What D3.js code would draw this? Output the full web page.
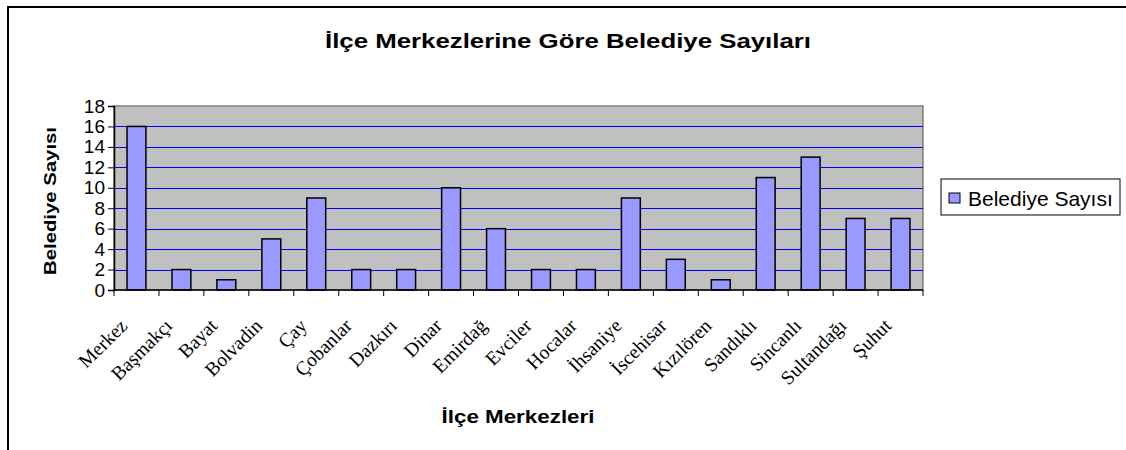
<!DOCTYPE html>
<html>
<head>
<meta charset="utf-8">
<script src="https://cdn.jsdelivr.net/npm/d3@7"></script>
<style>
  body { margin: 0; background: #fff; }
  svg { display: block; }
</style>
</head>
<body>
<svg id="chart" width="1126" height="450"></svg>
<script>
// data
const districts = ["Merkez", "Başmakçı", "Bayat", "Bolvadin", "Çay", "Çobanlar", "Dazkırı", "Dinar",
  "Emirdağ", "Evciler", "Hocalar", "İhsaniye", "İscehisar", "Kızılören", "Sandıklı", "Sincanlı",
  "Sultandağı", "Şuhut"];
const counts = [16, 2, 1, 5, 9, 2, 2, 10, 6, 2, 2, 9, 3, 1, 11, 13, 7, 7];
const yTicks = [0, 2, 4, 6, 8, 10, 12, 14, 16, 18];
const seriesName = "Belediye Sayısı";

const svg = d3.select("#chart");
const plot = {left: 114, right: 923, top: 106, bottom: 290};
const sans = "Liberation Sans, Arial, sans-serif";

// outer frame (right and bottom edges are cropped off in the original)
svg.append("path")
  .attr("d", "M8,450 V7 H1126")
  .attr("fill", "none").attr("stroke", "#000").attr("stroke-width", 2);

const x = d3.scaleBand().domain(districts).range([plot.left, plot.right]).paddingInner(0.58).paddingOuter(0.29);
const band = d3.scaleBand().domain(districts).range([plot.left, plot.right]);
const y = d3.scaleLinear().domain([0, 18]).range([plot.bottom, plot.top]);

// plot background
svg.append("rect")
  .attr("x", plot.left).attr("y", plot.top)
  .attr("width", plot.right - plot.left).attr("height", plot.bottom - plot.top)
  .attr("fill", "#c0c0c0").attr("stroke", "#808080").attr("stroke-width", 1.5);

// gridlines
svg.append("g").selectAll("line")
  .data(yTicks.filter(d => d > 0 && d < 18))
  .join("line")
    .attr("x1", plot.left).attr("x2", plot.right)
    .attr("y1", d => Math.round(y(d)) + 0.5).attr("y2", d => Math.round(y(d)) + 0.5)
    .attr("stroke", "#0000ff").attr("stroke-width", 1);

// bars
svg.append("g").selectAll("rect")
  .data(counts)
  .join("rect")
    .attr("x", (d, i) => x(districts[i]))
    .attr("y", d => y(d))
    .attr("width", x.bandwidth())
    .attr("height", d => y(0) - y(d))
    .attr("fill", "#9999ff").attr("stroke", "#000").attr("stroke-width", 1.5);

// y axis
const yAxis = svg.append("g")
  .attr("transform", `translate(${plot.left},0)`)
  .call(d3.axisLeft(y).tickValues(yTicks).tickSize(6).tickPadding(3));
yAxis.select(".domain").attr("stroke", "#000").attr("stroke-width", 1.5);
yAxis.selectAll(".tick line").attr("stroke", "#000");
yAxis.selectAll("text").attr("font-family", sans).attr("font-size", 19).attr("fill", "#000");

// x axis: ticks between categories
const xAxis = svg.append("g").attr("transform", `translate(0,${plot.bottom})`);
xAxis.append("line").attr("x1", plot.left).attr("x2", plot.right).attr("stroke", "#000").attr("stroke-width", 1.5);
xAxis.selectAll(".sep")
  .data(districts.concat([null]))
  .join("line")
    .attr("class", "sep")
    .attr("x1", d => d ? band(d) : plot.right)
    .attr("x2", d => d ? band(d) : plot.right)
    .attr("y1", 0).attr("y2", 6)
    .attr("stroke", "#000");

xAxis.selectAll(".lbl")
  .data(districts)
  .join("text")
    .attr("class", "lbl")
    .attr("transform", d => `translate(${band(d) + band.bandwidth() / 2 - 8},${37}) rotate(-45)`)
    .attr("text-anchor", "end")
    .attr("font-family", "Liberation Serif, Times New Roman, serif")
    .attr("font-size", 19.5)
    .text(d => d);

// titles (the original's titles are drawn horizontally stretched)
svg.append("text")
  .attr("x", 568).attr("y", 48)
  .attr("text-anchor", "middle").attr("font-family", sans).attr("font-weight", "bold").attr("font-size", 21)
  .attr("textLength", 486).attr("lengthAdjust", "spacingAndGlyphs")
  .text("İlçe Merkezlerine Göre Belediye Sayıları");

svg.append("text")
  .attr("x", 518).attr("y", 423)
  .attr("text-anchor", "middle").attr("font-family", sans).attr("font-weight", "bold").attr("font-size", 18)
  .attr("textLength", 153).attr("lengthAdjust", "spacingAndGlyphs")
  .text("İlçe Merkezleri");

svg.append("text")
  .attr("transform", "translate(56,201) rotate(-90)")
  .attr("text-anchor", "middle").attr("font-family", sans).attr("font-weight", "bold").attr("font-size", 16)
  .attr("textLength", 148).attr("lengthAdjust", "spacingAndGlyphs")
  .text("Belediye Sayısı");

// legend
const legend = svg.append("g").attr("transform", "translate(941,179)");
legend.append("rect").attr("width", 179).attr("height", 36)
  .attr("fill", "#fff").attr("stroke", "#000").attr("stroke-width", 1);
legend.append("rect").attr("x", 8).attr("y", 14).attr("width", 11).attr("height", 10)
  .attr("fill", "#9999ff").attr("stroke", "#000").attr("stroke-width", 1);
legend.append("text").attr("x", 27).attr("y", 27)
  .attr("font-family", sans).attr("font-size", 21)
  .text(seriesName);
</script>
</body>
</html>
